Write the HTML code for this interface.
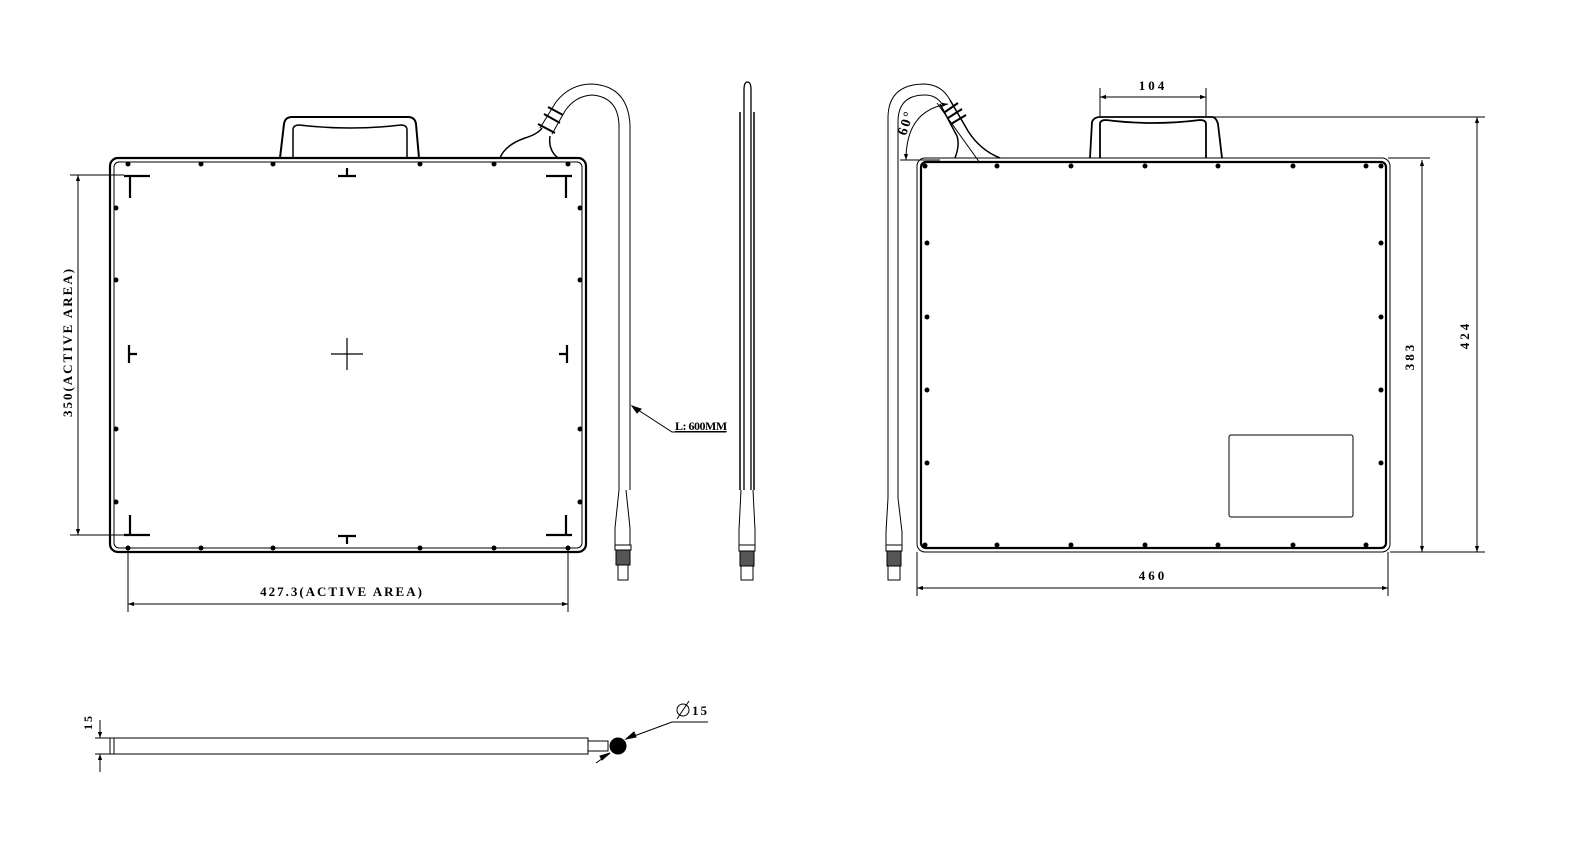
<!DOCTYPE html>
<html><head><meta charset="utf-8"><style>
html,body{margin:0;padding:0;background:#fff;}
svg{display:block;}
text{font-family:"Liberation Serif",serif;font-weight:bold;fill:#000;}
</style></head><body>
<svg width="1587" height="845" viewBox="0 0 1587 845" xmlns="http://www.w3.org/2000/svg">
<defs>
<marker id="ar" viewBox="0 0 10 10" refX="10" refY="5" markerWidth="10" markerHeight="6" orient="auto-start-reverse" markerUnits="userSpaceOnUse"><path d="M0,1.5 L10,5 L0,8.5 z" fill="#000"/></marker>
</defs>
<g fill="none" stroke="#000" stroke-width="1">

<!-- LEFT FRONT VIEW -->
<rect x="110" y="158" width="476" height="394" rx="8" stroke-width="2.2"/>
<rect x="114" y="162" width="468" height="386" rx="5" stroke-width="1"/>
<path d="M280,158 L284,124 Q285,117 292,117 L408,117 Q415,117 416,124 L419,158" stroke-width="2"/>
<path d="M293,158 L293,130 Q293,125 299,125 Q350,131 401,125 Q407,125 407,130 L407,158" stroke-width="1.5"/>
<g stroke-width="2.2">
<path d="M124,176 L150,176 M130,176 L130,198"/>
<path d="M546,176 L572,176 M566,176 L566,198"/>
<path d="M124,535 L150,535 M130,535 L130,515"/>
<path d="M546,535 L572,535 M566,535 L566,515"/>
<path d="M338,176 L356,176 M347,168 L347,176"/>
<path d="M338,536 L356,536 M347,536 L347,544"/>
<path d="M129,345 L129,363 M129,354 L137,354"/>
<path d="M567,345 L567,363 M567,354 L559,354"/>
</g>
<path d="M331,354 L363,354 M347,338 L347,370" stroke-width="1.2"/>
<path d="M500,158 Q505,145 525,138 Q538,134 542,128" stroke-width="1.5"/>
<path d="M558,158 Q548,150 550,136" stroke-width="1.5"/>
<path d="M540,128 L556,102 Q570,84 592,84 Q628,86 630,125 L630,490"/>
<path d="M552,134 L565,111 Q575,96 592,95 Q618,97 619,125 L619,490"/>
<path d="M538,124 L555,133 M544,114 L560,123 M548,107 L563,115" stroke-width="2"/>
<path d="M619,490 L615,528 L615,545 L630,545 L630,528 L626,490"/>
<rect x="615" y="545" width="16" height="5"/>
<rect x="616" y="550" width="14" height="15" fill="#555" stroke-width="1"/>
<rect x="618" y="565" width="10" height="15"/>
<path d="M632,406 L672,432 L726,432"/>
<path d="M632,406 L641,409 L637,413 z" fill="#000"/>

<path d="M70,175 L124,175 M70,535 L124,535"/>
<path d="M78,175 L78,535" marker-start="url(#ar)" marker-end="url(#ar)"/>
<path d="M128,548 L128,612 M568,548 L568,612"/>
<path d="M128,604 L568,604" marker-start="url(#ar)" marker-end="url(#ar)"/>

<!-- SIDE VIEW -->
<path d="M744,490 L744,90 Q744,82 747.5,82 Q751,82 751,90 L751,490" stroke-width="1.3"/>
<path d="M740,112 L740,490 M754,112 L754,490" stroke-width="1.5"/>
<path d="M741,490 L739,530 L739,545 L755,545 L755,530 L753,490"/>
<rect x="739" y="545" width="16" height="6"/>
<rect x="740" y="551" width="14" height="15" fill="#555"/>
<rect x="741" y="566" width="12" height="14"/>

<!-- RIGHT VIEW -->
<rect x="917" y="158" width="473" height="394" rx="8" stroke-width="1"/>
<rect x="921" y="162" width="465" height="386" rx="5" stroke-width="2.2"/>
<path d="M1100,158 L1100,124 Q1100,120 1106,120 Q1153,126 1200,120 Q1206,120 1206,124 L1206,158" stroke-width="1.8"/>
<path d="M1090,158 L1092,122 Q1094,117 1100,117 L1212,117 Q1216,117 1218,124 L1222,158" stroke-width="1.8"/>
<rect x="1229" y="435" width="124" height="82" rx="2"/>
<path d="M888,498 L888,118 Q888,84 925,84 Q942,85 950,100" />
<path d="M898,498 L898,122 Q898,95 925,95 Q936,95 942,104"/>
<path d="M950,100 L968,131 Q980,150 1000,158 M940,104 L957,136 Q960,145 955,158" stroke-width="1.5"/>
<path d="M937,103 L980,163"/>
<path d="M945,112 L958,103 M948,118 L962,109 M951,124 L966,115" stroke-width="2"/>
<path d="M888,498 L886,532 L886,545 L902,545 L902,532 L898,498"/>
<rect x="886" y="545" width="16" height="6"/>
<rect x="887" y="551" width="14" height="15" fill="#555"/>
<rect x="888" y="566" width="12" height="14"/>
<path d="M900,160 L940,160"/>
<path d="M906,160 Q906,110 948,104" marker-start="url(#ar)" marker-end="url(#ar)"/>
<path d="M1100,88 L1100,116 M1206,88 L1206,116"/>
<path d="M1100,97 L1206,97" marker-start="url(#ar)" marker-end="url(#ar)"/>
<path d="M1212,117 L1485,117 M1390,552 L1485,552 M1388,158 L1430,158 M1390,552 L1430,552"/>
<path d="M1477,117 L1477,552" marker-start="url(#ar)" marker-end="url(#ar)"/>
<path d="M1422,160 L1422,552" marker-start="url(#ar)" marker-end="url(#ar)"/>
<path d="M917,552 L917,596 M1388,552 L1388,596"/>
<path d="M917,588 L1388,588" marker-start="url(#ar)" marker-end="url(#ar)"/>

<!-- BOTTOM VIEW -->
<rect x="110" y="738" width="478" height="16"/>
<path d="M114,738 L114,754"/>
<rect x="588" y="741" width="20" height="10"/>
<circle cx="618" cy="746" r="8" fill="#000"/>
<path d="M626,739 L672,722 L708,722"/>
<path d="M626,739 L634,732 L636,737 z" fill="#000"/>
<path d="M596,763 L610,753"/>
<path d="M610,753 L602,760 L600,756 z" fill="#000"/>
<path d="M95,738 L110,738 M95,754 L110,754"/>
<path d="M100,720 L100,738" marker-end="url(#ar)"/>
<path d="M100,772 L100,754" marker-end="url(#ar)"/>
<circle cx="683" cy="710" r="6"/>
<path d="M677,719 L689,701"/>
</g>

<g fill="#000">
<circle cx="128" cy="164" r="2.5"/><circle cx="201" cy="164" r="2.5"/><circle cx="273" cy="164" r="2.5"/><circle cx="420" cy="164" r="2.5"/><circle cx="494" cy="164" r="2.5"/><circle cx="568" cy="164" r="2.5"/>
<circle cx="128" cy="548" r="2.5"/><circle cx="201" cy="548" r="2.5"/><circle cx="273" cy="548" r="2.5"/><circle cx="420" cy="548" r="2.5"/><circle cx="494" cy="548" r="2.5"/><circle cx="568" cy="548" r="2.5"/>
<circle cx="116" cy="208" r="2.5"/><circle cx="116" cy="280" r="2.5"/><circle cx="116" cy="429" r="2.5"/><circle cx="116" cy="502" r="2.5"/>
<circle cx="580" cy="208" r="2.5"/><circle cx="580" cy="280" r="2.5"/><circle cx="580" cy="429" r="2.5"/><circle cx="580" cy="502" r="2.5"/>
<circle cx="925" cy="166" r="2.5"/><circle cx="997" cy="166" r="2.5"/><circle cx="1071" cy="166" r="2.5"/><circle cx="1145" cy="166" r="2.5"/><circle cx="1218" cy="166" r="2.5"/><circle cx="1293" cy="166" r="2.5"/><circle cx="1366" cy="166" r="2.5"/><circle cx="1381" cy="166" r="2.5"/>
<circle cx="925" cy="545" r="2.5"/><circle cx="997" cy="545" r="2.5"/><circle cx="1071" cy="545" r="2.5"/><circle cx="1145" cy="545" r="2.5"/><circle cx="1218" cy="545" r="2.5"/><circle cx="1293" cy="545" r="2.5"/><circle cx="1366" cy="545" r="2.5"/>
<circle cx="927" cy="243" r="2.5"/><circle cx="927" cy="317" r="2.5"/><circle cx="927" cy="390" r="2.5"/><circle cx="927" cy="463" r="2.5"/>
<circle cx="1381" cy="243" r="2.5"/><circle cx="1381" cy="317" r="2.5"/><circle cx="1381" cy="390" r="2.5"/><circle cx="1381" cy="463" r="2.5"/>
</g>

<text x="342" y="596" font-size="13" text-anchor="middle" letter-spacing="2">427.3(ACTIVE AREA)</text>
<text transform="translate(72,342) rotate(-90)" font-size="13" text-anchor="middle" letter-spacing="2">350(ACTIVE AREA)</text>
<text x="675" y="430" font-size="12" letter-spacing="-0.5" style="text-decoration:underline">L: 600MM</text>
<text x="1153" y="90" font-size="13" text-anchor="middle" letter-spacing="3">104</text>
<text x="1153" y="580" font-size="13" text-anchor="middle" letter-spacing="3">460</text>
<text transform="translate(1414,356) rotate(-90)" font-size="13" text-anchor="middle" letter-spacing="3">383</text>
<text transform="translate(1469,335) rotate(-90)" font-size="13" text-anchor="middle" letter-spacing="3">424</text>
<text transform="translate(910,124) rotate(-72)" font-size="14" text-anchor="middle" letter-spacing="2">60°</text>
<text x="692" y="715" font-size="13" letter-spacing="2">15</text>
<text transform="translate(92,722) rotate(-90)" font-size="12" text-anchor="middle" letter-spacing="2">15</text>
</svg>
</body></html>
